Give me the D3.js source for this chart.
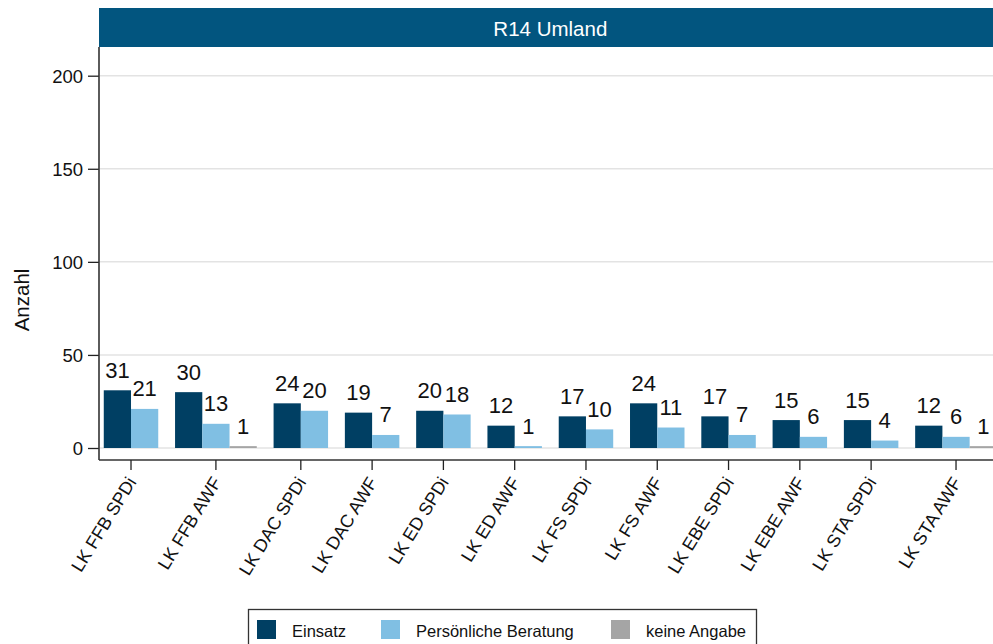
<!DOCTYPE html>
<html>
<head>
<meta charset="utf-8">
<script src="https://cdn.jsdelivr.net/npm/d3@7"></script>
<style>
  body { margin: 0; background: #fff; }
  svg { display: block; font-family: "Liberation Sans", Arial, sans-serif; }
</style>
</head>
<body>
<svg id="chart" width="993" height="644"></svg>
<script>
var categories = ["LK FFB SPDi", "LK FFB AWF", "LK DAC SPDi", "LK DAC AWF", "LK ED SPDi", "LK ED AWF",
                  "LK FS SPDi", "LK FS AWF", "LK EBE SPDi", "LK EBE AWF", "LK STA SPDi", "LK STA AWF"];
var einsatz = [31, 30, 24, 19, 20, 12, 17, 24, 17, 15, 15, 12];
var beratung = [21, 13, 20, 7, 18, 1, 10, 11, 7, 6, 4, 6];
var keineAngabe = [0, 1, 0, 0, 0, 0, 0, 0, 0, 0, 0, 1];
var seriesNames = ["Einsatz", "Persönliche Beratung", "keine Angabe"];
var yTicks = [0, 50, 100, 150, 200];
var panelTitle = "R14 Umland";

var colors = ["#003f63", "#80bfe3", "#a5a5a5"];
var seriesValues = [einsatz, beratung, keineAngabe];

// layout in "bar units": empty series are dropped, so groups get different widths
var outerPad = 0.175, groupGap = 0.617, barPx = 27.24;
var bars = [], groups = [];
var pos = outerPad;
categories.forEach(function (c, i) {
    var start = pos;
    seriesValues.forEach(function (vals, s) {
        if (vals[i] > 0) {
            bars.push({ cat: c, s: s, value: vals[i], u0: pos, u1: pos + 1 });
            pos += 1;
        }
    });
    groups.push({ cat: c, center: (start + pos) / 2 });
    pos += groupGap;
});
var totalUnits = pos - groupGap + outerPad;

var plotLeft = 99, axisY = 460, plotTop = 47;
var x = d3.scaleLinear().domain([0, totalUnits]).range([plotLeft, plotLeft + totalUnits * barPx]);
var y = d3.scaleLinear().domain([0, 200]).range([448, 75.7]);
var plotRight = x(totalUnits);

var svg = d3.select("#chart");

// header strip
svg.append("rect")
    .attr("x", plotLeft).attr("y", 8)
    .attr("width", plotRight - plotLeft).attr("height", plotTop - 8)
    .attr("fill", "#02557f");
svg.append("text")
    .attr("x", (plotLeft + plotRight) / 2).attr("y", 36)
    .attr("text-anchor", "middle")
    .attr("fill", "#fff")
    .style("font-size", "20.5px")
    .text(panelTitle);

// gridlines
svg.append("g").selectAll("line")
    .data(yTicks)
    .enter().append("line")
    .attr("x1", plotLeft + 1).attr("x2", plotRight)
    .attr("y1", function (d) { return y(d); })
    .attr("y2", function (d) { return y(d); })
    .attr("stroke", "#e3e3e3")
    .attr("stroke-width", 1.5);

// bars
svg.append("g").selectAll("rect")
    .data(bars)
    .enter().append("rect")
    .attr("x", function (d) { return x(d.u0); })
    .attr("width", function (d) { return x(d.u1) - x(d.u0); })
    .attr("y", function (d) { return y(d.value); })
    .attr("height", function (d) { return y(0) - y(d.value); })
    .attr("fill", function (d) { return colors[d.s]; });

// value labels
svg.append("g").selectAll("text")
    .data(bars)
    .enter().append("text")
    .attr("x", function (d) { return (x(d.u0) + x(d.u1)) / 2; })
    .attr("y", function (d) { return y(d.value) - 12.5; })
    .attr("text-anchor", "middle")
    .attr("fill", "#111")
    .style("font-size", "22px")
    .text(function (d) { return d.value; });

// y axis
var yAxis = d3.axisLeft(y).tickValues(yTicks).tickSize(11).tickSizeOuter(0).tickPadding(5);
var gy = svg.append("g")
    .attr("transform", "translate(" + plotLeft + ",0)")
    .call(yAxis);
gy.select(".domain").remove();
gy.selectAll(".tick line").attr("stroke", "#222").attr("stroke-width", 1.3);
gy.selectAll(".tick text").attr("fill", "#111").style("font-size", "18.5px").attr("dy", "0.36em").style("font-family", null);
svg.append("line")
    .attr("x1", plotLeft).attr("x2", plotLeft)
    .attr("y1", plotTop).attr("y2", axisY)
    .attr("stroke", "#333").attr("stroke-width", 1.6);

svg.append("text")
    .attr("transform", "translate(29,300) rotate(-90)")
    .attr("text-anchor", "middle")
    .attr("fill", "#111")
    .style("font-size", "20.5px")
    .text("Anzahl");

// x axis
svg.append("line")
    .attr("x1", plotLeft).attr("x2", plotRight)
    .attr("y1", axisY).attr("y2", axisY)
    .attr("stroke", "#333").attr("stroke-width", 1.6);
var gx = svg.append("g");
gx.selectAll("line")
    .data(groups)
    .enter().append("line")
    .attr("x1", function (d) { return x(d.center); })
    .attr("x2", function (d) { return x(d.center); })
    .attr("y1", axisY).attr("y2", axisY + 10)
    .attr("stroke", "#222").attr("stroke-width", 1.3);
gx.selectAll("text")
    .data(groups)
    .enter().append("text")
    .attr("transform", function (d) { return "translate(" + (x(d.center) + 6) + "," + (axisY + 22) + ") rotate(-58.5)"; })
    .attr("text-anchor", "end")
    .attr("fill", "#111")
    .style("font-size", "18px")
    .text(function (d) { return d.cat; });

// legend
var legend = svg.append("g");
legend.append("rect")
    .attr("x", 248.5).attr("y", 609.5)
    .attr("width", 508).attr("height", 50)
    .attr("fill", "#fff").attr("stroke", "#333").attr("stroke-width", 1.3);
var legendX = [257, 381, 611];
seriesNames.forEach(function (name, i) {
    legend.append("rect")
        .attr("x", legendX[i]).attr("y", 620)
        .attr("width", 19).attr("height", 19)
        .attr("fill", colors[i]);
    legend.append("text")
        .attr("x", legendX[i] + 35).attr("y", 636.5)
        .attr("fill", "#111")
        .style("font-size", "16.5px")
        .text(name);
});
</script>
</body>
</html>
